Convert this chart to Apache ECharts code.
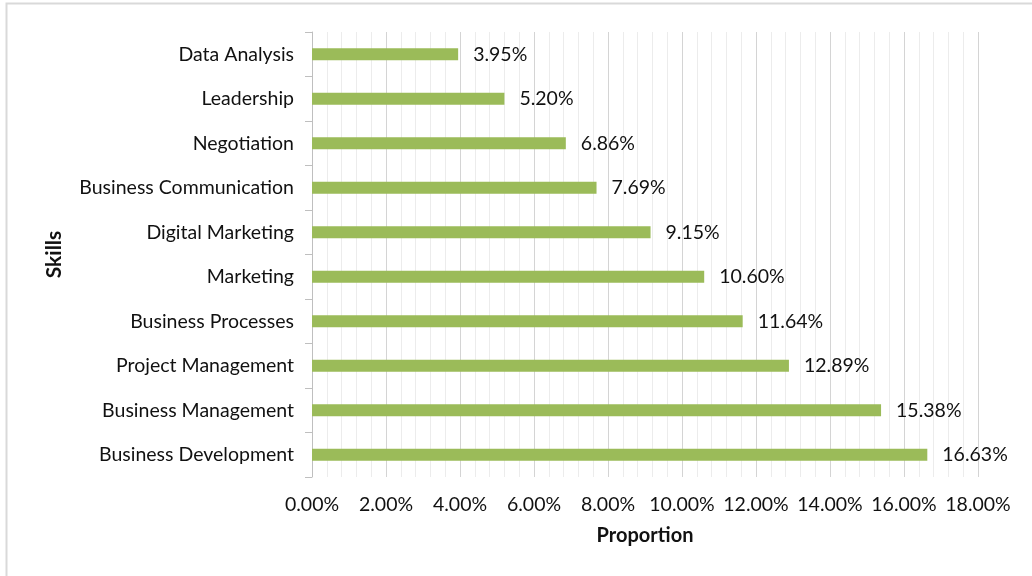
<!DOCTYPE html>
<html>
<head>
<meta charset="utf-8">
<script src="https://cdn.jsdelivr.net/npm/echarts@6/dist/echarts.min.js"></script>
<style>
  html, body { margin: 0; padding: 0; background: #fff; }
  #chart { width: 1032px; height: 576px; }
</style>
</head>
<body>
<div id="chart"></div>
<script>
// Skills, listed top to bottom
const skills = [
  'Data Analysis', 'Leadership', 'Negotiation', 'Business Communication',
  'Digital Marketing', 'Marketing', 'Business Processes', 'Project Management',
  'Business Management', 'Business Development'
];
// Share of each skill, in percent
const proportions = [3.95, 5.20, 6.86, 7.69, 9.15, 10.60, 11.64, 12.89, 15.38, 16.63];
// Proportion axis range and step, in percent
const axisMin = 0;
const axisMax = 18;
const axisStep = 2;

const FONT = 'Lato, "Open Sans", sans-serif';
const TEXT = '#111';
const chart = echarts.init(document.getElementById('chart'), null, { renderer: 'canvas' });

chart.setOption({
  backgroundColor: '#fff',
  animation: false,
  graphic: [{
    type: 'rect',
    shape: { x: 6.5, y: 3.5, width: 1100, height: 700 },
    style: { fill: 'none', stroke: '#d9d9d9', lineWidth: 2 },
    silent: true
  }],
  grid: { left: 312, right: 54, top: 32, bottom: 99, containLabel: false },
  xAxis: {
    type: 'value',
    min: axisMin,
    max: axisMax,
    interval: axisStep,
    name: 'Proportion',
    nameLocation: 'middle',
    nameGap: 49,
    nameTextStyle: { fontFamily: FONT, fontSize: 20, fontWeight: 'bold', color: TEXT },
    axisLine: { show: false },
    axisTick: { show: false },
    axisLabel: {
      margin: 18,
      fontFamily: FONT, fontSize: 19.5, color: TEXT,
      formatter: v => v.toFixed(2) + '%'
    },
    splitLine: { show: true, lineStyle: { color: '#d4d4d4', width: 1 } },
    minorTick: { show: false, splitNumber: 5 },
    minorSplitLine: { show: true, lineStyle: { color: '#ececec', width: 1 } }
  },
  yAxis: {
    type: 'category',
    data: skills,
    inverse: true,
    name: 'Skills',
    nameLocation: 'middle',
    nameGap: 247,
    nameRotate: 90,
    nameTextStyle: { fontFamily: FONT, fontSize: 21, fontWeight: 'bold', color: TEXT },
    axisLine: { show: true, lineStyle: { color: '#bfbfbf', width: 1 } },
    axisTick: { show: true, length: 7, alignWithLabel: false, lineStyle: { color: '#bfbfbf' } },
    axisLabel: { margin: 18, fontFamily: FONT, fontSize: 19.5, color: TEXT },
    splitLine: { show: false }
  },
  series: [{
    type: 'bar',
    data: proportions,
    barWidth: 12,
    itemStyle: { color: '#9bbb59' },
    label: {
      show: true,
      position: 'right',
      distance: 15,
      fontFamily: FONT, fontSize: 19.5, color: TEXT,
      formatter: p => p.value.toFixed(2) + '%'
    }
  }]
});
</script>
</body>
</html>
